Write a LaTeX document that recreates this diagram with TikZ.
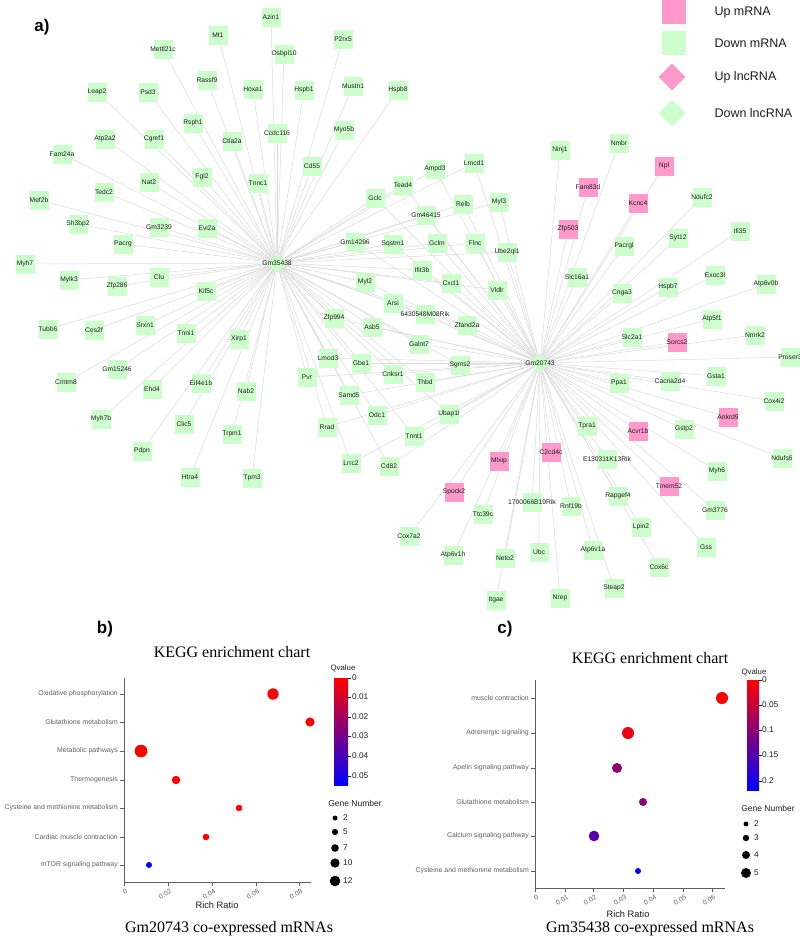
\documentclass[tikz,border=0pt]{standalone}
\usepackage{fontspec}
\setmainfont{Liberation Sans}
\newfontfamily\seriff{Liberation Serif}
\usetikzlibrary{shapes.geometric,backgrounds}
\definecolor{gfill}{RGB}{204,255,204}
\definecolor{pfill}{RGB}{255,153,204}
\definecolor{txt}{RGB}{30,30,30}
\definecolor{edgec}{RGB}{218,218,218}
\definecolor{catc}{RGB}{95,95,95}
\tikzset{
  gbox/.style={rectangle,fill=gfill,minimum size=19pt,inner sep=0pt},
  pbox/.style={rectangle,fill=pfill,minimum size=19pt,inner sep=0pt},
  hubg/.style={diamond,fill=gfill,minimum size=20pt,inner sep=0pt},
  nlbl/.style={font=\fontsize{6.7}{7}\selectfont,text=txt,inner sep=0pt},
  edge/.style={draw=edgec,line width=0.5pt},
  legtxt/.style={font=\fontsize{12.5}{14}\selectfont,text=txt,anchor=west},
  axis/.style={draw=catc,line width=0.6pt},
  cat/.style={font=\fontsize{6.9}{8}\selectfont,text=catc,anchor=east,inner sep=1pt},
  tick/.style={font=\fontsize{6.8}{7}\selectfont,text=catc,rotate=30,anchor=north east,inner sep=1pt},
  cbl/.style={font=\fontsize{8.3}{9}\selectfont,text=txt,anchor=west,inner sep=1pt},
  ttl/.style={font=\seriff\fontsize{16}{18}\selectfont,text=black},
  panel/.style={font=\bfseries\fontsize{17}{19}\selectfont},
}
\newcommand\mkg[3]{\node[gbox] (#1) at (#2,#3) {}; \node[nlbl] at (#1.center) {#1};}
\newcommand\mkp[3]{\node[pbox] (#1) at (#2,#3) {}; \node[nlbl] at (#1.center) {#1};}
\begin{document}
\begin{tikzpicture}[x=1pt,y=-1pt]
\useasboundingbox (0,0) rectangle (800,940);
% ---- panel labels
\node[panel] (pa) at (42,27) {a)};
\node[panel] (pb) at (105,629) {b)};
\node[panel] (pc) at (505,629) {c)};
% ---- legend
\node[pbox,minimum size=24pt] (l1) at (674,12) {};
\node[gbox,minimum size=24pt] (l2) at (674,43) {};
\node[diamond,fill=pfill,minimum size=27pt,inner sep=0pt] (l3) at (672,77) {};
\node[diamond,fill=gfill,minimum size=27pt,inner sep=0pt] (l4) at (672,113) {};
\node[legtxt] (t1) at (711,12) {Up mRNA};
\node[legtxt] (t2) at (711,43) {Down mRNA};
\node[legtxt] (t3) at (711,77) {Up lncRNA};
\node[legtxt] (t4) at (711,113) {Down lncRNA};
% ---- hubs
\node[hubg] (Gm35438) at (277,263) {}; \node[nlbl] at (Gm35438.center) {Gm35438};
\node[hubg] (Gm20743) at (540,363) {}; \node[nlbl] at (Gm20743.center) {Gm20743};
% ---- left cluster
\mkg{Azin1}{271}{17} \mkg{Mt1}{218}{35} \mkg{Mettl21c}{163}{49} \mkg{Osbpl10}{284}{54}
\mkg{P2rx5}{343}{39} \mkg{Rassf9}{207}{80} \mkg{Hoxa1}{253}{89} \mkg{Hspb1}{304}{90}
\mkg{Mustn1}{353}{86} \mkg{Hspb8}{398}{90} \mkg{Leap2}{97}{92} \mkg{Psd3}{148}{92}
\mkg{Rsph1}{193}{123} \mkg{Ctla2a}{232}{141} \mkg{Ccdc116}{277}{133} \mkg{Myo5b}{344}{130}
\mkg{Atp2a2}{105}{139} \mkg{Cgref1}{154}{139} \mkg{Fam24a}{62}{154} \mkg{Cd55}{312}{166}
\mkg{Fgl2}{202}{177} \mkg{Tnnc1}{258}{183} \mkg{Nat2}{149}{182} \mkg{Tedc2}{104}{192}
\mkg{Mef2b}{39}{200} \mkg{Sh3bp2}{78}{224} \mkg{Gm3239}{159}{227} \mkg{Evi2a}{207}{228}
\mkg{Pacrg}{123}{244} \mkg{Myh7}{25}{264} \mkg{Mylk3}{69}{280} \mkg{Clu}{159}{277}
\mkg{Zfp286}{117}{286} \mkg{Kif5c}{206}{291} \mkg{Tubb6}{48}{329} \mkg{Ces2f}{94}{330}
\mkg{Srxn1}{145}{325} \mkg{Tnni1}{186}{333} \mkg{Xirp1}{239}{339} \mkg{Cmtm8}{66}{382}
\mkg{Gm15246}{117}{369} \mkg{Ehd4}{152}{389} \mkg{Eif4e1b}{201}{383} \mkg{Nab2}{246}{391}
\mkg{Myh7b}{101}{419} \mkg{Clic5}{184}{424} \mkg{Trpm1}{232}{434} \mkg{Pdpn}{142}{451}
\mkg{Htra4}{190}{477} \mkg{Tpm3}{252}{478}
% ---- middle (shared)
\mkg{Gclc}{375}{198} \mkg{Tead4}{403}{185} \mkg{Ampd3}{435}{169} \mkg{Lmcd1}{474}{163}
\mkg{Relb}{463}{204} \mkg{Myl3}{499}{202} \mkg{Gm46415}{426}{215} \mkg{Gm14296}{355}{242}
\mkg{Sqstm1}{393}{244} \mkg{Gclm}{437}{243} \mkg{Flnc}{475}{243} \mkg{Ube2ql1}{507}{252}
\mkg{Ifit3b}{422}{270} \mkg{Myl2}{365}{282} \mkg{Cxcl1}{451}{283} \mkg{Vldlr}{497}{290}
\mkg{Arsi}{393}{303} \mkg{6430548M08Rik}{425}{314} \mkg{Zfp994}{334}{318} \mkg{Asb5}{372}{327}
\mkg{Zfand2a}{467}{325} \mkg{Galnt7}{419}{344} \mkg{Lmod3}{328}{358} \mkg{Gbe1}{361}{363}
\mkg{Sgms2}{460}{365} \mkg{Cnksr1}{393}{374} \mkg{Thbd}{425}{382} \mkg{Pvr}{307}{377}
\mkg{Samd5}{349}{395} \mkg{Rrad}{327}{427} \mkg{Odc1}{377}{415} \mkg{Ubap1l}{449}{414}
\mkg{Tnnt1}{414}{436} \mkg{Lrrc2}{351}{463} \mkg{Cd82}{389}{466}
% ---- right cluster
\mkg{Ninj1}{560}{150} \mkg{Nmbr}{619}{143} \mkp{Fam83d}{588}{187} \mkp{Npl}{664}{166}
\mkp{Kcnc4}{638}{203} \mkg{Ndufc2}{702}{197} \mkp{Zfp503}{568}{229} \mkg{Pacrgl}{624}{246}
\mkg{Syt12}{678}{238} \mkg{Ifi35}{740}{231} \mkg{Slc16a1}{577}{277} \mkg{Cnga3}{622}{293}
\mkg{Hspb7}{668}{287} \mkg{Exoc3l}{715}{275} \mkg{Atp6v0b}{766}{284} \mkg{Atp5f1}{712}{319}
\mkg{Slc2a1}{632}{337} \mkp{Sorcs2}{677}{342} \mkg{Nmrk2}{755}{335} \mkg{Proser3}{790}{357}
\mkg{Ppa1}{619}{383} \mkg{Cacna2d4}{670}{381} \mkg{Gsta1}{716}{376} \mkg{Cox4i2}{774}{401}
\mkp{Ankrd9}{728}{417} \mkg{Tpra1}{587}{426} \mkp{Acvr1b}{638}{431} \mkg{Gstp2}{684}{429}
\mkp{C2cd4c}{551}{452} \mkg{E130311K13Rik}{607}{459} \mkg{Ndufs6}{782}{458} \mkg{Myh6}{717}{471}
\mkp{Tmem52}{669}{486} \mkg{1700066B19Rik}{532}{502} \mkg{Rnf19b}{571}{506} \mkg{Rapgef4}{618}{496}
\mkg{Gm3776}{715}{510} \mkg{Lpin2}{641}{527} \mkg{Gss}{706}{547} \mkg{Ubc}{539}{552}
\mkg{Atp6v1a}{593}{550} \mkg{Cox6c}{659}{567} \mkg{Steap2}{614}{588} \mkg{Nrep}{560}{598}
\mkp{Mlxip}{499}{461} \mkp{Spock2}{454}{492} \mkg{Ttc39c}{483}{514} \mkg{Cox7a2}{409}{536}
\mkg{Atp6v1h}{453}{555} \mkg{Neto2}{505}{558} \mkg{Itgae}{496}{600}
% ---- edges
\begin{pgfonlayer}{background}
\foreach \n in {Azin1,Mt1,Mettl21c,Osbpl10,P2rx5,Rassf9,Hoxa1,Hspb1,Mustn1,Hspb8,Leap2,Psd3,Rsph1,Ctla2a,Ccdc116,Myo5b,Atp2a2,Cgref1,Fam24a,Cd55,Fgl2,Tnnc1,Nat2,Tedc2,Mef2b,Sh3bp2,Gm3239,Evi2a,Pacrg,Myh7,Mylk3,Clu,Zfp286,Kif5c,Tubb6,Ces2f,Srxn1,Tnni1,Xirp1,Cmtm8,Gm15246,Ehd4,Eif4e1b,Nab2,Myh7b,Clic5,Trpm1,Pdpn,Htra4,Tpm3}
  \draw[edge] (Gm35438.center) -- (\n.center);
\foreach \n in {Gclc,Tead4,Ampd3,Lmcd1,Relb,Myl3,Gm46415,Gm14296,Sqstm1,Gclm,Flnc,Ube2ql1,Ifit3b,Myl2,Cxcl1,Vldlr,Arsi,6430548M08Rik,Zfp994,Asb5,Zfand2a,Galnt7,Lmod3,Gbe1,Sgms2,Cnksr1,Thbd,Pvr,Samd5,Rrad,Odc1,Ubap1l,Tnnt1,Lrrc2,Cd82}
  {\draw[edge] (Gm35438.center) -- (\n.center); \draw[edge] (Gm20743.center) -- (\n.center);}
\foreach \n in {Ninj1,Nmbr,Fam83d,Npl,Kcnc4,Ndufc2,Zfp503,Pacrgl,Syt12,Ifi35,Slc16a1,Cnga3,Hspb7,Exoc3l,Atp6v0b,Atp5f1,Slc2a1,Sorcs2,Nmrk2,Proser3,Ppa1,Cacna2d4,Gsta1,Cox4i2,Ankrd9,Tpra1,Acvr1b,Gstp2,C2cd4c,E130311K13Rik,Ndufs6,Myh6,Tmem52,1700066B19Rik,Rnf19b,Rapgef4,Gm3776,Lpin2,Gss,Ubc,Atp6v1a,Cox6c,Steap2,Nrep,Mlxip,Spock2,Ttc39c,Cox7a2,Atp6v1h,Neto2,Itgae}
  \draw[edge] (Gm20743.center) -- (\n.center);
\end{pgfonlayer}
% ================= panel b
\node[ttl] (bt) at (232,652) {KEGG enrichment chart};
\node[ttl] (bb) at (229,929) {Gm20743 co-expressed mRNAs};
\draw[axis] (124,678) -- (124,882) -- (311,882);
\foreach \y/\t in {694/Oxidative phosphorylation,722/Glutathione metabolism,751/Metabolic pathways,780/Thermogenesis,808/Cysteine and methionine metabolism,837/Cardiac muscle contraction,865/mTOR signaling pathway}
  {\draw[axis] (120,\y) -- (124,\y); \node[cat] at (119,\y) {\t};}
\foreach \x/\t in {124/0,168/0.02,212/0.04,256/0.06,299/0.08}
  {\draw[axis] (\x,882) -- (\x,886); \node[tick] at (\x+2,887) {\t};}
\node[font=\fontsize{9.3}{10}\selectfont,text=txt] (brr) at (217,905) {Rich Ratio};
\fill[red] (273,694) circle (5.7pt);
\fill[red] (310,722) circle (4.6pt);
\fill[red] (141,751) circle (6.3pt);
\fill[red] (176,780) circle (4.2pt);
\fill[red] (239,808) circle (3.3pt);
\fill[red] (206,837) circle (3.3pt);
\fill[blue] (149,865) circle (3pt);
\shade[top color=red,bottom color=blue] (334,678) rectangle (348,785);
\node[font=\fontsize{7.8}{8}\selectfont,text=txt] (bq) at (343,668) {Qvalue};
\foreach \y/\t in {678/0,697/0.01,717/0.02,736/0.03,756/0.04,776/0.05}
  {\draw[txt,line width=0.4pt] (348,\y) -- (351,\y); \node[cbl] at (351,\y) {\t};}
\node[font=\fontsize{8.5}{9}\selectfont,text=txt] (bg) at (355,803) {Gene Number};
\foreach \y/\r/\t in {818/2.5/2,832/3.1/5,848/3.8/7,863/4.6/10,881/5.3/12}
  {\fill[black] (335,\y) circle (\r pt); \node[cbl] at (342,\y) {\t};}
% ================= panel c
\node[ttl] (ct) at (650,658) {KEGG enrichment chart};
\node[ttl] (cb) at (650,929) {Gm35438 co-expressed mRNAs};
\draw[axis] (535,680) -- (535,888) -- (725,888);
\foreach \y/\t in {698/muscle contraction,733/Adrenergic signaling,768/Apelin signaling pathway,802/Glutathione metabolism,836/Calcium signaling pathway,871/Cysteine and methionine metabolism}
  {\draw[axis] (531,\y) -- (535,\y); \node[cat] at (530,\y) {\t};}
\foreach \x/\t in {535/0,565/0.01,593/0.02,623/0.03,653/0.04,683/0.05,712/0.06}
  {\draw[axis] (\x,888) -- (\x,892); \node[tick] at (\x+2,893) {\t};}
\node[font=\fontsize{9.3}{10}\selectfont,text=txt] (crr) at (628,914) {Rich Ratio};
\fill[red] (722,698) circle (6pt);
\fill[red!92!blue] (628,733) circle (6pt);
\fill[red!55!blue] (617,768) circle (5pt);
\fill[red!55!blue] (643,802) circle (4pt);
\fill[red!35!blue] (594,836) circle (5.3pt);
\fill[blue] (638,871) circle (3pt);
\shade[top color=red,bottom color=blue] (747,680) rectangle (759,790);
\node[font=\fontsize{7.8}{8}\selectfont,text=txt] (cq) at (754,672) {Qvalue};
\foreach \y/\t in {680/0,705/0.05,730/0.1,755/0.15,781/0.2}
  {\draw[txt,line width=0.4pt] (759,\y) -- (762,\y); \node[cbl] at (761,\y) {\t};}
\node[font=\fontsize{8.5}{9}\selectfont,text=txt] (cg) at (768,808) {Gene Number};
\foreach \y/\r/\t in {824/2.4/2,838/3.2/3,855/4/4,873/5/5}
  {\fill[black] (746,\y) circle (\r pt); \node[cbl] at (753,\y) {\t};}
\end{tikzpicture}
\end{document}
